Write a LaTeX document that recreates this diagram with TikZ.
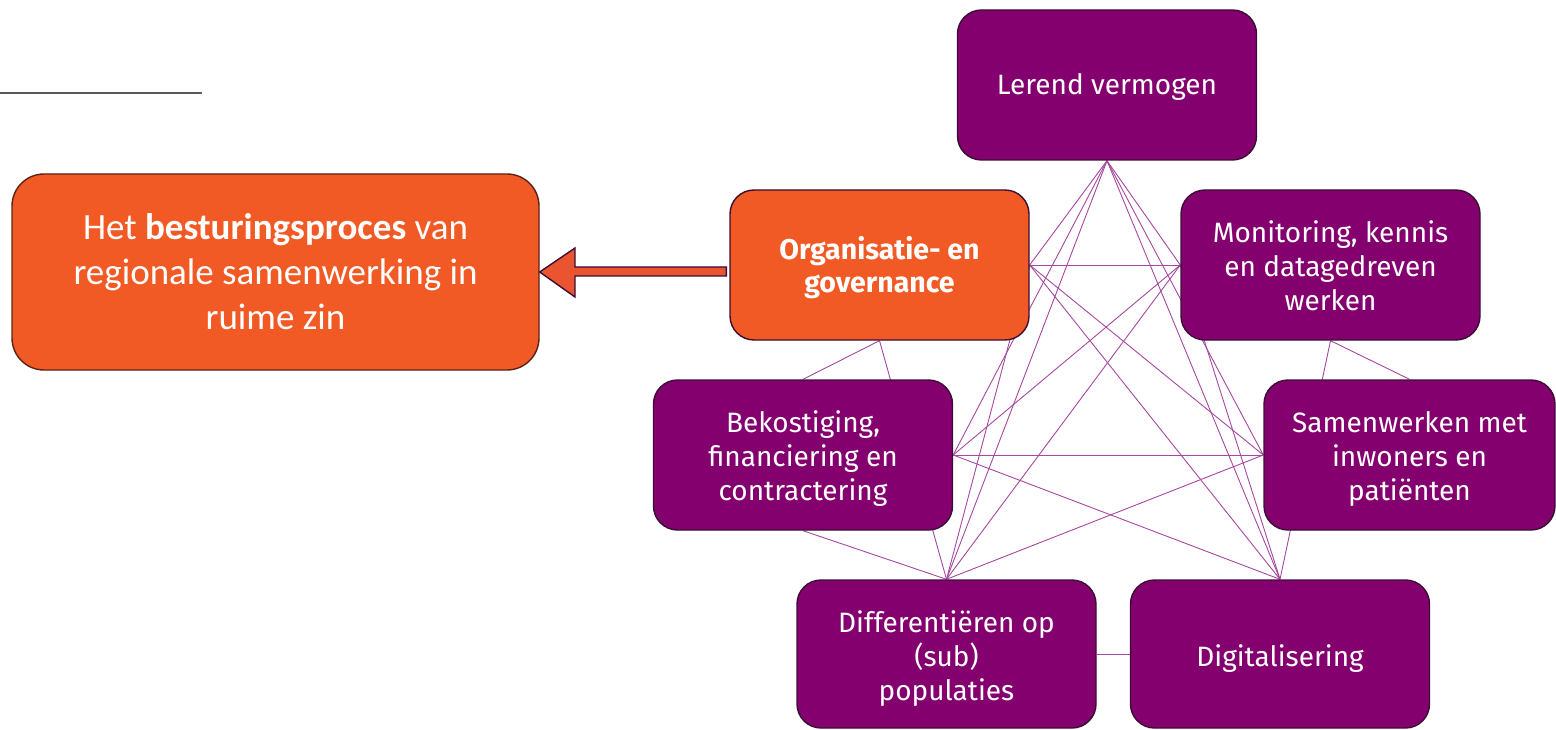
\documentclass[tikz,border=0pt]{standalone}
\usepackage{fontspec}
\setmainfont{Carlito}
\newfontfamily\boxfont{Fira Sans}
\usetikzlibrary{backgrounds}
\definecolor{orng}{HTML}{F15A24}
\definecolor{purp}{HTML}{85006F}
\definecolor{purpdark}{HTML}{3A0E35}
\definecolor{brn}{HTML}{5C2314}
\definecolor{linec}{HTML}{A6489F}
\definecolor{grayl}{HTML}{595959}
\definecolor{arrowfill}{HTML}{EA5430}
\newcommand{\lowertext}[2]{\raisebox{-#1}[\height][\depth]{\begin{tabular}{@{}c@{}}#2\end{tabular}}}
\begin{document}
\begin{tikzpicture}[x=1pt,y=-1pt,
  pbox/.style={draw=purpdark, line width=1.4pt, fill=purp, rounded corners=24pt,
    minimum width=299pt, minimum height=150pt, text=white,
    font=\boxfont\fontsize{28}{34}\selectfont, align=center, inner sep=0pt},
  obox/.style={pbox, fill=orng},
  bigbox/.style={draw=brn, line width=1.4pt, fill=orng, rounded corners=32pt,
    minimum width=527pt, minimum height=196pt, text=white,
    font=\fontsize{37}{45}\selectfont, align=center, inner sep=0pt},
  link/.style={draw=linec, line width=0.9pt},
  blockarrow/.style={draw=purpdark, line width=1.4pt, fill=arrowfill, line join=miter}]
\useasboundingbox (0,0) rectangle (1556,730);

% top-left rule
\coordinate (r1) at (0,93);
\coordinate (r2) at (202,93);
\draw[grayl, line width=2pt] (r1) -- (r2);

% nodes
\node[bigbox] (H) at (275.5,272) {Het \textbf{besturingsproces} van\\regionale samenwerking in\\ruime zin};
\node[pbox] (L) at (1107,85) {\lowertext{3pt}{Lerend vermogen}};
\node[obox, font=\boxfont\bfseries\fontsize{28.5}{33}\selectfont] (O) at (879.5,265) {\lowertext{4pt}{Organisatie- en\\governance}};
\node[pbox] (M) at (1330.5,265) {\lowertext{5pt}{Monitoring, kennis\\en datagedreven\\werken}};
\node[pbox] (B) at (803,455) {\lowertext{5pt}{Bekostiging,\\financiering en\\contractering}};
\node[pbox, minimum width=291pt] (S) at (1409.5,455) {\lowertext{5pt}{Samenwerken met\\inwoners en\\patiënten}};
\node[pbox, minimum height=148pt] (D) at (946.5,654) {\lowertext{6pt}{Differentiëren op\\(sub)\\populaties}};
\node[pbox, minimum height=148pt] (G) at (1280,654) {\lowertext{6pt}{Digitalisering}};

% links behind boxes
\begin{scope}[on background layer]
  \draw[link] (L.south) -- (O.east);
  \draw[link] (L.south) -- (M.west);
  \draw[link] (L.south) -- (B.east);
  \draw[link] (L.south) -- (S.west);
  \draw[link] (L.south) -- (D.north);
  \draw[link] (L.south) -- (G.north);
  \draw[link] (O.east) -- (M.west);
  \draw[link] (O.east) -- (S.west);
  \draw[link] (O.east) -- (G.north);
  \draw[link] (O.east) -- (D.north);
  \draw[link] (O.south) -- (B.north);
  \draw[link] (O.south) -- (D.north);
  \draw[link] (M.west) -- (B.east);
  \draw[link] (M.west) -- (D.north);
  \draw[link] (M.west) -- (G.north);
  \draw[link] (M.south) -- (S.north);
  \draw[link] (M.south) -- (G.north);
  \draw[link] (B.east) -- (S.west);
  \draw[link] (B.east) -- (G.north);
  \draw[link] (B.south) -- (D.north);
  \draw[link] (S.west) -- (D.north);
  \draw[link] (D.east) -- (G.west);
\end{scope}

% block arrow from O to H
\coordinate (tail) at ([xshift=-3pt]O.west);
\draw[blockarrow] (H.east) -- (575,248) -- (575,267) -- (tail |- 0,267) -- (tail |- 0,276) -- (575,276) -- (575,297) -- cycle;
\end{tikzpicture}
\end{document}
